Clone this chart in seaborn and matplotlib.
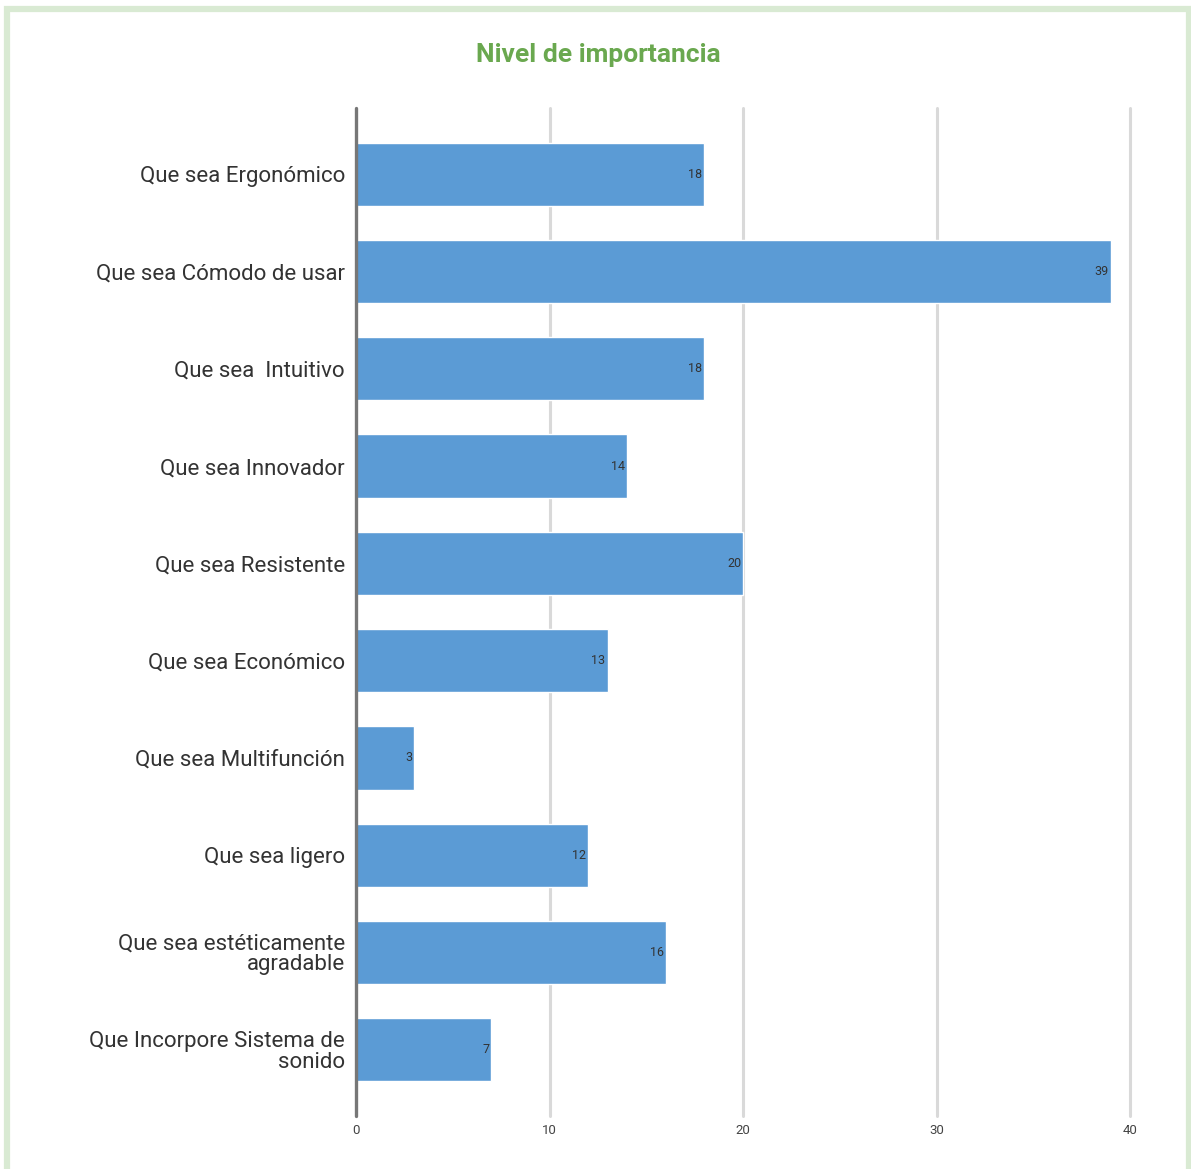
import matplotlib
matplotlib.use("Agg")
import matplotlib.pyplot as plt
import seaborn as sns
import pandas as pd
from matplotlib.patches import Rectangle

categorias = [
    "Que sea Ergonómico",
    "Que sea Cómodo de usar",
    "Que sea  Intuitivo",
    "Que sea Innovador",
    "Que sea Resistente",
    "Que sea Económico",
    "Que sea Multifunción",
    "Que sea ligero",
    "Que sea estéticamente\nagradable",
    "Que Incorpore Sistema de\nsonido",
]
valores = [18, 39, 18, 14, 20, 13, 3, 12, 16, 7]
ticks_x = [0, 10, 20, 30, 40]

sns.set_theme(style="white")
plt.rcParams["font.family"] = ["Roboto", "DejaVu Sans"]

df = pd.DataFrame({"categoria": categorias, "valor": valores})

fig = plt.figure(figsize=(11.91, 11.69), dpi=100)
W, H = 1191, 1169
ax = fig.add_axes([356 / W, 1 - 1116 / H, (1130 - 356) / W, (1116 - 108) / H])

sns.barplot(data=df, x="valor", y="categoria", color="#5b9bd5", width=0.65,
            saturation=1, ax=ax, zorder=3)

ax.set_xlim(0, 40)
ax.set_ylim(9.68, -0.68)
ax.set_xticks(ticks_x)
ax.set_xticklabels([str(t) for t in ticks_x], fontsize=9.5, color="#444444")
ax.tick_params(axis="x", length=0, pad=6)
ax.tick_params(axis="y", length=0, pad=8)
ax.set_yticks(range(len(categorias)))
ax.set_yticklabels(categorias, fontsize=16, color="#333333", linespacing=0.95)
ax.set_xlabel("")
ax.set_ylabel("")

for t in ticks_x[1:]:
    ax.axvline(t, color="#d9d9d9", lw=2.2, zorder=1, clip_on=False)
ax.axvline(0, color="#777777", lw=2.4, zorder=4, clip_on=False)

for s in ax.spines.values():
    s.set_visible(False)

for i, v in enumerate(valores):
    ax.text(v - 0.1, i, str(v), ha="right", va="center", fontsize=9,
            color="#333333", zorder=5)

fig.text(598 / W, 1 - 55 / H, "Nivel de importancia", ha="center", va="center",
         fontsize=19, fontweight="bold", color="#6aa84f")

fig.patches.append(Rectangle((6.5 / W, -0.01), (1188.5 - 6.5) / W, 1 - 8.5 / H + 0.01,
                             transform=fig.transFigure, fill=False,
                             edgecolor="#d9ead3", lw=4.5, zorder=10))

fig.savefig("out.png", dpi=100, facecolor="white")
